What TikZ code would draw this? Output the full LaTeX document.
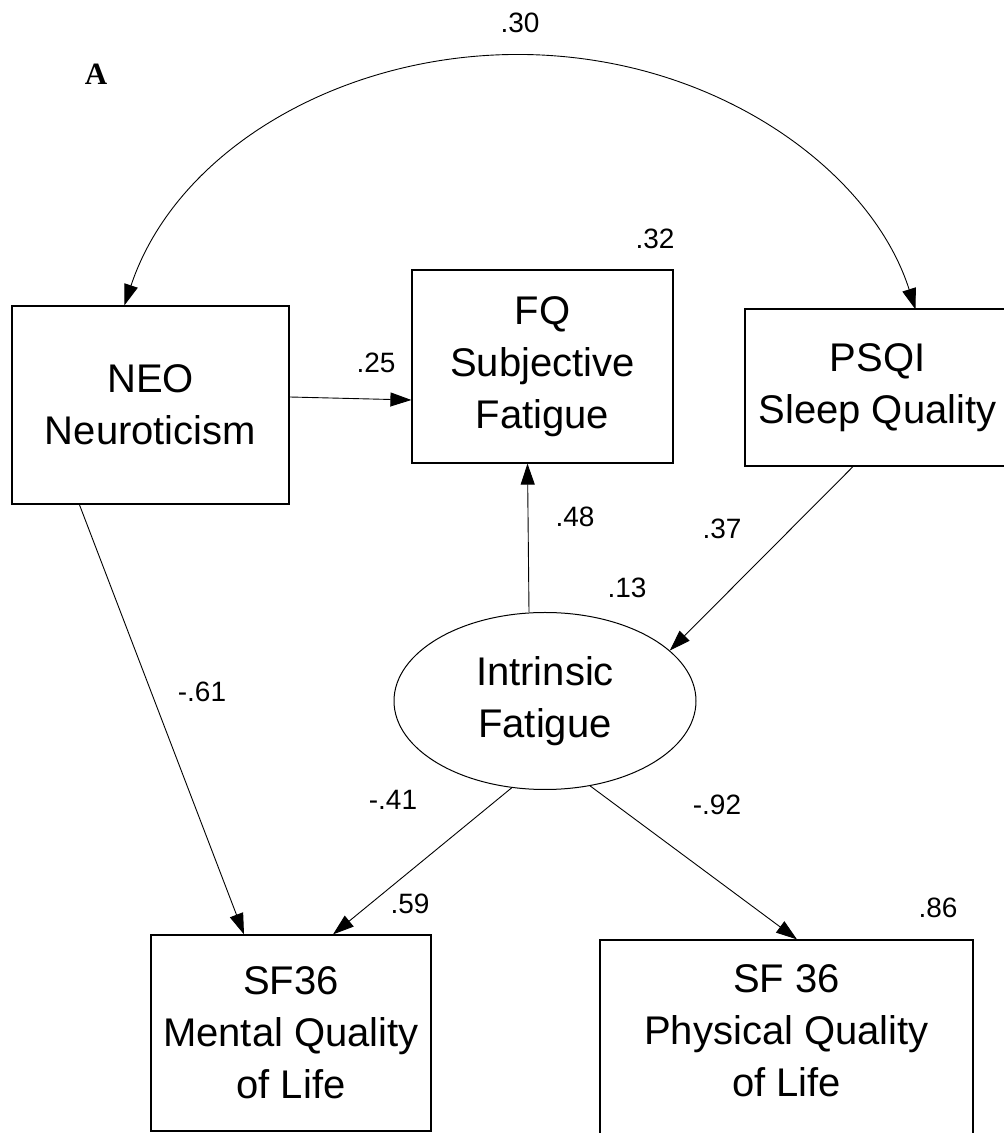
\documentclass[tikz,border=0pt]{standalone}
\usepackage{fontspec}
\setmainfont{Liberation Sans}
\newfontfamily\panelfont{Liberation Serif}
\usetikzlibrary{arrows.meta,shapes.geometric}

\begin{document}
\begin{tikzpicture}[x=1pt,y=1pt,
  box/.style={draw, line width=1.2pt, rectangle, inner sep=0pt, align=center,
              font=\fontsize{40}{52}\selectfont},
  latent/.style={draw, line width=1pt, ellipse, inner sep=0pt, align=center,
                 font=\fontsize{40}{52}\selectfont},
  txt/.style={inner sep=0pt, align=center, font=\fontsize{40}{52}\selectfont},
  lbl/.style={inner sep=0pt, font=\fontsize{28}{30}\selectfont},
  effect/.style={-{Triangle[length=21pt,width=14pt]}, line width=0.9pt},
  covar/.style={{Triangle[length=21pt,width=14pt]}-{Triangle[length=21pt,width=14pt]}, line width=0.9pt},
  ]
\clip (0,0) rectangle (1004,1133);
\useasboundingbox (0,0) rectangle (1004,1133);

% panel letter
\node[inner sep=0pt, font=\panelfont\bfseries\fontsize{31}{33}\selectfont] (panel) at (96,1059) {A};

% observed variables
\node[box, minimum width=277pt, minimum height=198pt] (neo) at (150.5,728) {NEO\\Neuroticism};
\node[box, minimum width=261pt, minimum height=193pt] (fq) at (542.5,766.5) {FQ\\Subjective\\Fatigue};
\node[box, minimum width=265pt, minimum height=157pt] (psqi) at (877.5,745.5) {PSQI\\Sleep Quality};
\node[box, minimum width=280pt, minimum height=196pt] (mental) at (291,100) {SF36\\Mental Quality\\of Life};
\node[box, minimum width=373pt, minimum height=200pt] (phys) at (786.5,93) {};
\node[txt] (physt) at ([yshift=-91pt]phys.north) {SF 36\\Physical Quality\\of Life};

% latent variable
\node[latent, minimum width=302pt, minimum height=177pt] (intr) at (545,432) {Intrinsic\\Fatigue};

% covariance between neuroticism and sleep quality
\draw[covar] ([xshift=113pt]neo.north west)
  arc[start angle=164.4, end angle=14.9, x radius=410pt, y radius=343pt];

% regression paths
\draw[effect] ([yshift=8pt]neo.east) -- ([yshift=-33.5pt]fq.west);
\draw[effect] ([xshift=-16pt]intr.north) -- ([xshift=-15pt]fq.south);
\draw[effect] ([xshift=-24.5pt]psqi.south) -- (intr.22);
\draw[effect] ([xshift=68pt]neo.south west) -- ([xshift=-47pt]mental.north);
\draw[effect] (intr.249) -- ([xshift=42pt]mental.north);
\draw[effect] (intr.298) -- ([xshift=10.5pt]phys.north);

% coefficients and explained variances
\node[lbl] (c30) at (520,1110) {.30};
\node[lbl] (r32) at (655,894) {.32};
\node[lbl] (c25) at (376,770) {.25};
\node[lbl] (c48) at (575,616) {.48};
\node[lbl] (c37) at (722,604) {.37};
\node[lbl] (r13) at (627,545) {.13};
\node[lbl] (c61) at (202,441) {-.61};
\node[lbl] (c41) at (393,333) {-.41};
\node[lbl] (c92) at (717,328) {-.92};
\node[lbl] (r59) at (410,229) {.59};
\node[lbl] (r86) at (938,225) {.86};
\end{tikzpicture}
\end{document}
